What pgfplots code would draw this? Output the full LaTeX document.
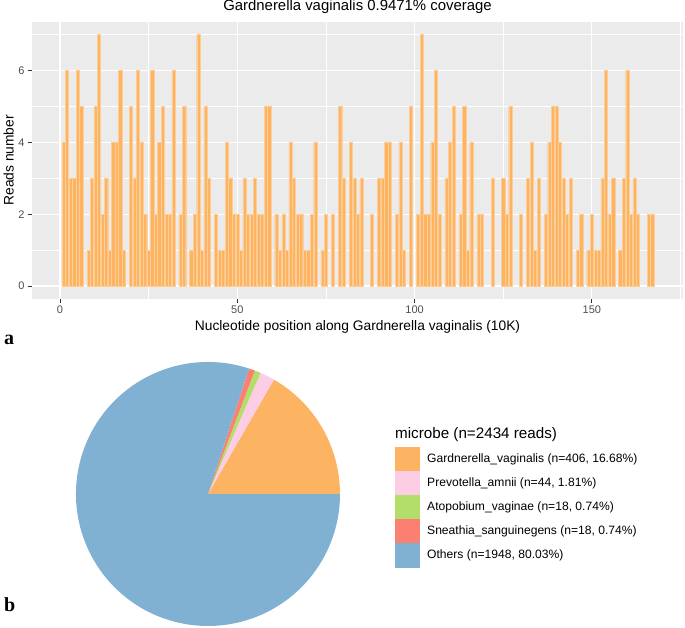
\documentclass[border=0pt]{standalone}
\usepackage{pgfplots}
\usepackage{pgfplotstable}
\pgfplotsset{compat=1.18}
\usepackage{fontspec}
\setmainfont{Liberation Sans}
\newfontfamily\panelfont{Liberation Serif}

\definecolor{panelbg}{RGB}{235,235,235}
\definecolor{ticktext}{RGB}{77,77,77}
\definecolor{tickline}{RGB}{51,51,51}
\definecolor{gvorange}{RGB}{253,180,98}
\definecolor{barline}{RGB}{254,206,150}
\definecolor{pvpink}{RGB}{252,205,229}
\definecolor{avgreen}{RGB}{179,222,105}
\definecolor{ssred}{RGB}{251,128,114}
\definecolor{otblue}{RGB}{128,177,211}

% reads per 10K window (empty windows left out)
\pgfplotstableread{
pos reads
1 4
2 6
3 3
4 3
5 6
6 5
8 1
9 3
10 5
11 7
12 2
13 3
14 1
15 4
16 4
17 6
18 1
20 5
21 3
22 6
23 4
24 2
25 1
26 6
27 2
28 4
29 5
30 2
31 2
32 6
34 2
35 5
37 1
38 2
39 7
40 1
41 5
42 3
44 2
45 1
46 1
47 4
48 3
49 2
50 2
51 1
52 3
53 2
54 2
55 3
56 2
57 2
58 5
59 5
61 2
62 1
63 2
64 1
65 4
66 3
67 2
68 2
69 1
70 1
71 2
72 4
74 1
75 2
77 2
79 5
80 3
82 4
83 3
84 2
85 3
88 2
90 3
91 3
92 4
93 4
95 2
96 4
97 1
99 5
101 2
102 7
103 2
104 2
105 4
106 6
107 2
109 3
110 4
111 5
113 2
114 5
115 1
116 4
118 2
119 2
122 3
125 3
126 2
127 5
130 2
132 3
133 4
134 1
135 3
137 2
138 4
139 5
140 5
141 4
142 3
143 2
144 3
146 1
147 2
149 1
150 2
151 1
152 1
153 3
154 6
155 2
156 3
158 1
159 3
160 6
161 2
162 3
163 2
166 2
167 2
}\coverage

\begin{document}
\begin{tikzpicture}[x=1pt,y=1pt]
\path[use as bounding box] (0,0) rectangle (685,627);

% ---- panel a: coverage bars
\begin{axis}[
  at={(32pt,328.4pt)}, anchor=south west,
  scale only axis, width=651pt, height=276.6pt,
  xmin=-7.9, xmax=175.7, ymin=-0.35, ymax=7.35,
  xtick={0,50,100,150}, ytick={0,2,4,6},
  minor xtick={25,75,125,175}, minor ytick={1,3,5,7},
  grid=both,
  major grid style={white, line width=1.2pt},
  minor grid style={white, line width=0.6pt},
  axis background/.style={fill=panelbg},
  axis line style={draw=none},
  tick pos=left, tick align=outside,
  major tick length=4pt, minor tick length=0pt,
  tick style={tickline, line width=1pt},
  /pgf/number format/assume math mode=true,
  ticklabel style={font=\fontsize{11}{13}\selectfont, text=ticktext},
  xlabel={Nucleotide position along Gardnerella vaginalis (10K)},
  xlabel style={font=\fontsize{13.8}{16}\selectfont, at={(0.5,0)}, anchor=base, yshift=-31.8pt},
]
\addplot[ybar, bar width=0.9, fill=gvorange, draw=barline, line width=0.4pt]
  table[x=pos, y=reads] {\coverage};
\end{axis}
\node[anchor=base, inner sep=0pt, font=\fontsize{14.9}{17}\selectfont] at (357.5,616) {Gardnerella vaginalis 0.9471\% coverage};
\node[rotate=90, anchor=base, inner sep=0pt, font=\fontsize{13.8}{16}\selectfont] at (13.5,466.7) {Reads number};

% ---- panel b: pie of read counts (total 2434)
\pgfmathsetmacro{\aA}{406/2434*360}
\pgfmathsetmacro{\aB}{\aA+44/2434*360}
\pgfmathsetmacro{\aC}{\aB+18/2434*360}
\pgfmathsetmacro{\aD}{\aC+18/2434*360}
\begin{axis}[
  at={(76pt,1pt)}, anchor=south west,
  scale only axis, width=264pt, height=264pt,
  xmin=-1, xmax=1, ymin=-1, ymax=1,
  hide axis, clip=false,
  legend style={at={(1.2083,0.678)}, anchor=north west, draw=none, fill=none,
    inner sep=0pt, row sep=0pt, column sep=8pt,
    font=\fontsize{12.1}{14}\selectfont, nodes={inner sep=0pt}},
  legend cell align=left,
]
\fill[gvorange] (axis cs:0,0) -- (axis cs:1,0) arc[start angle=0, end angle=\aA, radius=132pt] -- cycle;
\fill[pvpink] (axis cs:0,0) -- (axis cs:{cos(\aA)},{sin(\aA)}) arc[start angle=\aA, end angle=\aB, radius=132pt] -- cycle;
\fill[avgreen] (axis cs:0,0) -- (axis cs:{cos(\aB)},{sin(\aB)}) arc[start angle=\aB, end angle=\aC, radius=132pt] -- cycle;
\fill[ssred] (axis cs:0,0) -- (axis cs:{cos(\aC)},{sin(\aC)}) arc[start angle=\aC, end angle=\aD, radius=132pt] -- cycle;
\fill[otblue] (axis cs:0,0) -- (axis cs:{cos(\aD)},{sin(\aD)}) arc[start angle=\aD, end angle=360, radius=132pt] -- cycle;
\addlegendimage{legend image code/.code={\fill[gvorange] (0pt,-11.8pt) rectangle (23.6pt,11.8pt);}}
\addlegendentry{Gardnerella\_vaginalis (n=406, 16.68\%)}
\addlegendimage{legend image code/.code={\fill[pvpink] (0pt,-11.8pt) rectangle (23.6pt,11.8pt);}}
\addlegendentry{Prevotella\_amnii (n=44, 1.81\%)}
\addlegendimage{legend image code/.code={\fill[avgreen] (0pt,-11.8pt) rectangle (23.6pt,11.8pt);}}
\addlegendentry{Atopobium\_vaginae (n=18, 0.74\%)}
\addlegendimage{legend image code/.code={\fill[ssred] (0pt,-11.8pt) rectangle (23.6pt,11.8pt);}}
\addlegendentry{Sneathia\_sanguinegens (n=18, 0.74\%)}
\addlegendimage{legend image code/.code={\fill[otblue] (0pt,-11.8pt) rectangle (23.6pt,11.8pt);}}
\addlegendentry{Others (n=1948, 80.03\%)}
\end{axis}

\node[anchor=base west, inner sep=0pt, font=\fontsize{15.2}{18}\selectfont] at (395,188.5) {microbe (n=2434 reads)};
\node[anchor=base west, inner sep=0pt, font=\panelfont\bfseries\fontsize{20}{22}\selectfont] at (4,282) {a};
\node[anchor=base west, inner sep=0pt, font=\panelfont\bfseries\fontsize{20}{22}\selectfont] at (4,16) {b};
\end{tikzpicture}
\end{document}
